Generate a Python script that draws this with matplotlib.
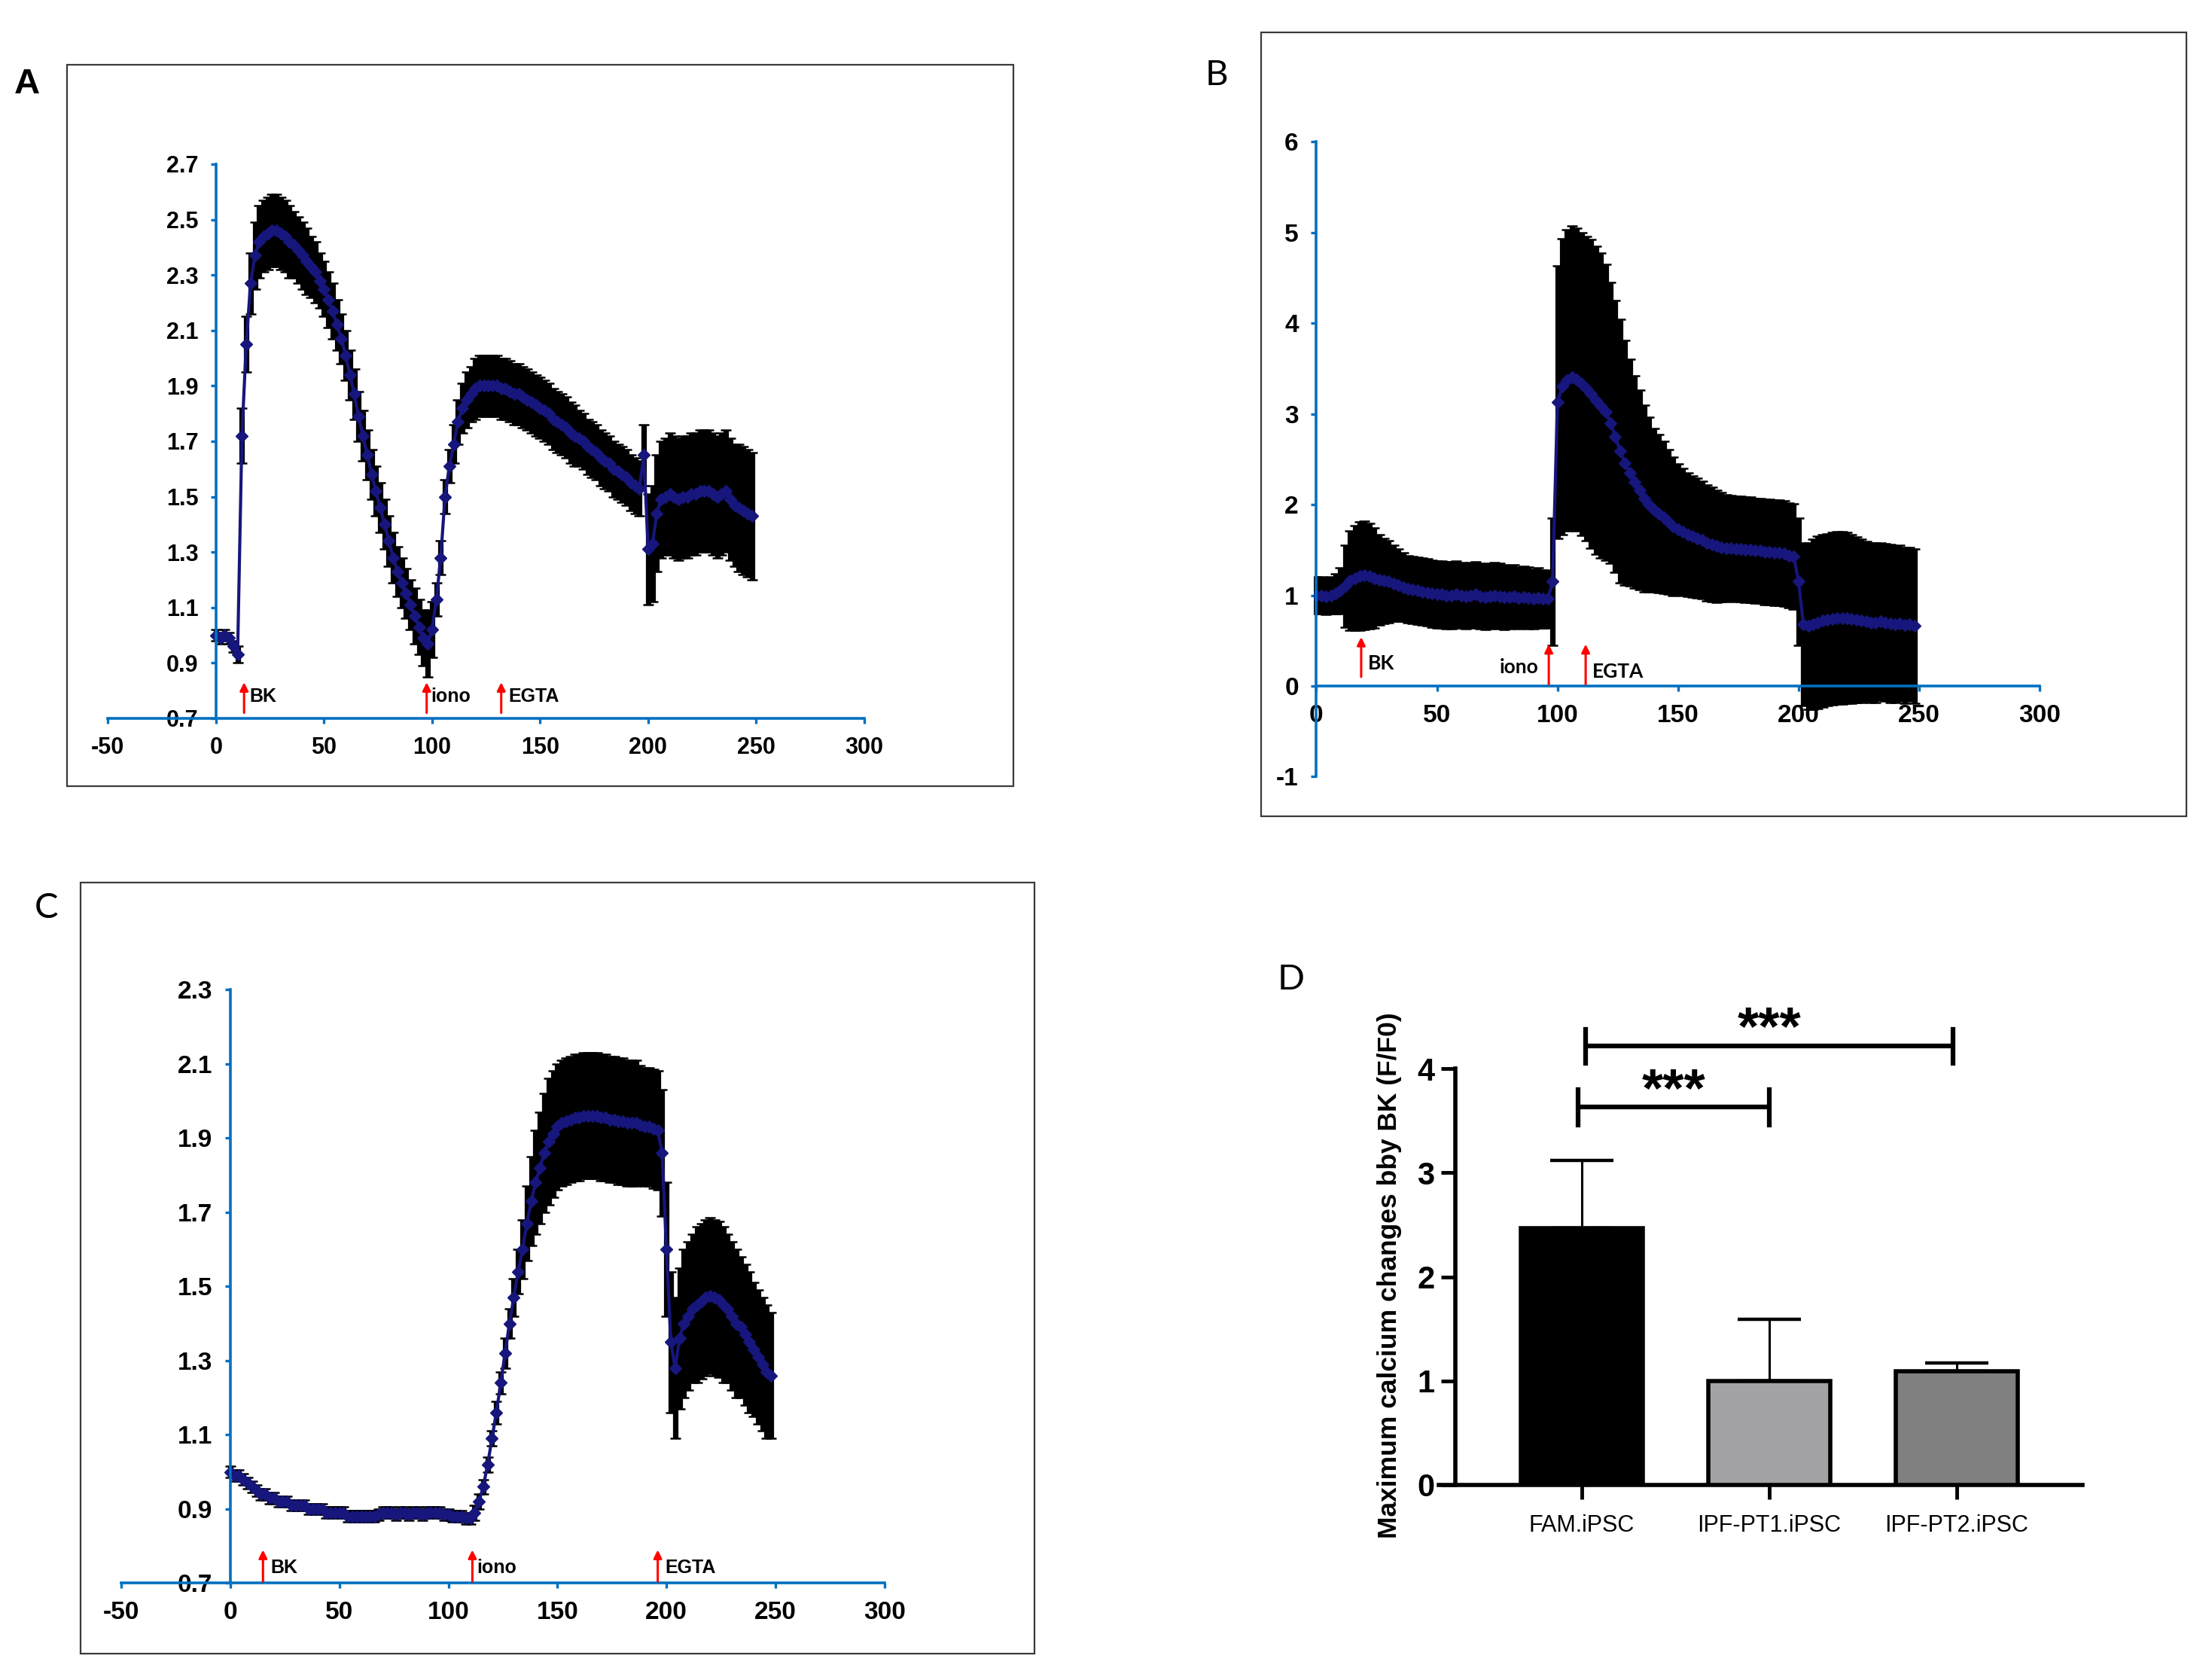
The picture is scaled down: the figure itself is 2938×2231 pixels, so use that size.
import numpy as np
import matplotlib
matplotlib.use('Agg')
import matplotlib.pyplot as plt
from matplotlib.patches import Rectangle

NARROW = ['Liberation Sans Narrow', 'Liberation Sans', 'DejaVu Sans']
ARIAL = ['Liberation Sans', 'DejaVu Sans']
CALIBRI = ['Lato', 'Open Sans', 'DejaVu Sans']
BLUE = '#0070C0'
NAVY = '#16167C'

# time points (s) shared by the three traces
T = np.arange(0, 250, 2)

# panel A: F/F0 mean and SD
a_mean = [1.00, 0.99, 1.00, 0.99, 0.96, 0.93, 1.72, 2.05, 2.27, 2.37,
          2.42, 2.44, 2.45, 2.46, 2.46, 2.45, 2.44, 2.42, 2.41, 2.39,
          2.37, 2.35, 2.33, 2.31, 2.28, 2.25, 2.21, 2.17, 2.12, 2.07,
          2.01, 1.94, 1.87, 1.79, 1.72, 1.65, 1.58, 1.52, 1.46, 1.40,
          1.34, 1.28, 1.23, 1.19, 1.15, 1.11, 1.07, 1.03, 0.99, 0.97,
          1.02, 1.13, 1.28, 1.50, 1.61, 1.69, 1.77, 1.82, 1.85, 1.87,
          1.89, 1.90, 1.90, 1.90, 1.90, 1.90, 1.89, 1.89, 1.88, 1.87,
          1.87, 1.86, 1.85, 1.84, 1.83, 1.82, 1.81, 1.80, 1.78, 1.77,
          1.76, 1.75, 1.73, 1.72, 1.71, 1.70, 1.68, 1.67, 1.66, 1.64,
          1.63, 1.62, 1.60, 1.59, 1.58, 1.57, 1.55, 1.54, 1.53, 1.65,
          1.31, 1.33, 1.44, 1.49, 1.50, 1.51, 1.50, 1.49, 1.50, 1.50,
          1.51, 1.51, 1.52, 1.52, 1.52, 1.51, 1.50, 1.51, 1.52, 1.49,
          1.47, 1.46, 1.45, 1.44, 1.43]
a_sd = [0.02, 0.02, 0.02, 0.02, 0.02, 0.03, 0.10, 0.10, 0.11, 0.12,
        0.13, 0.13, 0.13, 0.13, 0.13, 0.13, 0.13, 0.13, 0.12, 0.12,
        0.12, 0.12, 0.11, 0.11, 0.10, 0.10, 0.10, 0.10, 0.09, 0.09,
        0.09, 0.09, 0.09, 0.09, 0.09, 0.09, 0.09, 0.09, 0.09, 0.09,
        0.09, 0.09, 0.09, 0.09, 0.09, 0.09, 0.10, 0.10, 0.10, 0.12,
        0.10, 0.06, 0.06, 0.06, 0.06, 0.07, 0.08, 0.09, 0.10, 0.10,
        0.11, 0.11, 0.11, 0.11, 0.11, 0.11, 0.11, 0.11, 0.11, 0.11,
        0.11, 0.11, 0.11, 0.11, 0.11, 0.11, 0.11, 0.11, 0.11, 0.11,
        0.11, 0.11, 0.11, 0.11, 0.10, 0.10, 0.10, 0.10, 0.10, 0.10,
        0.10, 0.10, 0.10, 0.10, 0.10, 0.10, 0.10, 0.10, 0.10, 0.11,
        0.20, 0.21, 0.21, 0.21, 0.21, 0.22, 0.22, 0.22, 0.22, 0.22,
        0.22, 0.22, 0.22, 0.22, 0.22, 0.22, 0.22, 0.22, 0.22, 0.22,
        0.22, 0.23, 0.23, 0.23, 0.23]

# panel B
b_mean = [1.00, 1.00, 0.99, 1.00, 1.02, 1.05, 1.10, 1.16, 1.19, 1.21,
          1.22, 1.21, 1.19, 1.17, 1.16, 1.15, 1.13, 1.11, 1.09, 1.07,
          1.06, 1.05, 1.04, 1.03, 1.02, 1.01, 1.01, 1.00, 1.00, 1.01,
          1.00, 0.99, 1.00, 1.01, 0.99, 0.98, 0.99, 1.00, 0.99, 0.98,
          0.98, 0.99, 0.97, 0.98, 0.97, 0.96, 0.97, 0.96, 0.96, 1.15,
          3.13, 3.30, 3.37, 3.40, 3.38, 3.33, 3.28, 3.22, 3.15, 3.09,
          3.02, 2.90, 2.75, 2.59, 2.46, 2.35, 2.25, 2.16, 2.07, 2.00,
          1.94, 1.90, 1.86, 1.81, 1.76, 1.73, 1.70, 1.67, 1.65, 1.63,
          1.61, 1.58, 1.56, 1.54, 1.53, 1.52, 1.52, 1.51, 1.51, 1.50,
          1.50, 1.49, 1.49, 1.48, 1.48, 1.47, 1.47, 1.46, 1.44, 1.43,
          1.15, 0.68, 0.66, 0.68, 0.70, 0.72, 0.73, 0.74, 0.75, 0.75,
          0.75, 0.74, 0.73, 0.72, 0.71, 0.70, 0.70, 0.71, 0.70, 0.69,
          0.68, 0.69, 0.67, 0.68, 0.66]
b_sd = [0.20, 0.20, 0.20, 0.20, 0.22, 0.25, 0.45, 0.55, 0.58, 0.60,
        0.60, 0.58, 0.55, 0.50, 0.47, 0.45, 0.42, 0.40, 0.38, 0.37,
        0.37, 0.37, 0.37, 0.37, 0.37, 0.37, 0.37, 0.37, 0.37, 0.37,
        0.36, 0.36, 0.36, 0.36, 0.36, 0.36, 0.36, 0.36, 0.36, 0.36,
        0.35, 0.35, 0.34, 0.34, 0.34, 0.33, 0.33, 0.32, 0.32, 0.70,
        1.50, 1.63, 1.66, 1.67, 1.67, 1.67, 1.68, 1.70, 1.70, 1.68,
        1.63, 1.55, 1.50, 1.45, 1.35, 1.25, 1.17, 1.10, 1.03, 0.96,
        0.90, 0.87, 0.84, 0.80, 0.76, 0.72, 0.70, 0.68, 0.67, 0.66,
        0.65, 0.64, 0.63, 0.62, 0.60, 0.59, 0.58, 0.58, 0.58, 0.58,
        0.58, 0.58, 0.58, 0.58, 0.58, 0.58, 0.58, 0.58, 0.58, 0.58,
        0.70, 0.90, 0.92, 0.94, 0.95, 0.95, 0.95, 0.95, 0.95, 0.95,
        0.94, 0.93, 0.91, 0.90, 0.88, 0.88, 0.88, 0.87, 0.87, 0.87,
        0.86, 0.86, 0.86, 0.85, 0.85]

# panel C
c_mean = [1.00, 0.99, 0.99, 0.98, 0.97, 0.96, 0.95, 0.94, 0.94, 0.93,
          0.93, 0.92, 0.92, 0.92, 0.91, 0.91, 0.91, 0.91, 0.90, 0.90,
          0.90, 0.90, 0.89, 0.89, 0.89, 0.89, 0.89, 0.88, 0.88, 0.88,
          0.88, 0.88, 0.88, 0.88, 0.885, 0.89, 0.89, 0.89, 0.885, 0.89,
          0.89, 0.885, 0.89, 0.89, 0.885, 0.89, 0.89, 0.89, 0.89, 0.885,
          0.885, 0.88, 0.88, 0.88, 0.875, 0.875, 0.89, 0.92, 0.96, 1.02,
          1.09, 1.16, 1.24, 1.32, 1.40, 1.47, 1.54, 1.60, 1.67, 1.73,
          1.78, 1.82, 1.86, 1.89, 1.91, 1.93, 1.94, 1.945, 1.95, 1.955,
          1.955, 1.96, 1.96, 1.96, 1.96, 1.955, 1.955, 1.95, 1.95, 1.945,
          1.945, 1.94, 1.94, 1.94, 1.935, 1.93, 1.93, 1.925, 1.92, 1.86,
          1.60, 1.35, 1.28, 1.36, 1.40, 1.42, 1.44, 1.45, 1.46, 1.47,
          1.475, 1.47, 1.465, 1.45, 1.44, 1.42, 1.40, 1.39, 1.37, 1.35,
          1.33, 1.31, 1.29, 1.27, 1.26]
c_sd = [0.015] * 56 + [
        0.02, 0.02, 0.02, 0.02,
        0.02, 0.03, 0.03, 0.04, 0.04, 0.05, 0.06, 0.08, 0.10, 0.12,
        0.14, 0.15, 0.16, 0.17, 0.17, 0.17, 0.17, 0.17, 0.17, 0.17,
        0.17, 0.17, 0.17, 0.17, 0.17, 0.17, 0.17, 0.17, 0.17, 0.17,
        0.17, 0.17, 0.17, 0.17, 0.16, 0.16, 0.16, 0.16, 0.16, 0.17,
        0.18, 0.19, 0.19, 0.19, 0.20, 0.20, 0.20, 0.21, 0.21, 0.21,
        0.21, 0.21, 0.21, 0.21, 0.20, 0.20, 0.20, 0.19, 0.19, 0.19,
        0.18, 0.18, 0.18, 0.18, 0.17]

# panel D: bar chart
groups = ['FAM.iPSC', 'IPF-PT1.iPSC', 'IPF-PT2.iPSC']
bar_mean = [2.47, 1.00, 1.09]
bar_err = [0.65, 0.59, 0.08]
bar_colors = ['black', '#A3A3A7', '#808080']

fig = plt.figure(figsize=(29.38, 22.31), dpi=100)
W, H = 2938.0, 2231.0


def frame(x0, y0, x1, y1):
    fig.patches.append(Rectangle((x0 / W, 1 - y1 / H), (x1 - x0) / W, (y1 - y0) / H,
                                 transform=fig.transFigure, fill=False,
                                 edgecolor='#3a3a3a', linewidth=1.6))


def trace_panel(rect, mean, sd, xlim, ylim, yticks, ylabels, xticks, xaxis_y, fs):
    ax = fig.add_axes(rect)
    ax.patch.set_visible(False)
    ax.errorbar(T, mean, yerr=sd, fmt='-D', color=NAVY, ms=8.5, lw=3,
                ecolor='black', elinewidth=5.2, capsize=5, capthick=1.8)
    ax.set_xlim(xlim)
    ax.set_ylim(ylim)
    ax.spines['top'].set_visible(False)
    ax.spines['right'].set_visible(False)
    ax.spines['left'].set_position(('data', 0))
    ax.spines['bottom'].set_position(('data', xaxis_y))
    ax.spines['bottom'].set_bounds(xticks[0], xticks[-1])
    for s in ['left', 'bottom']:
        ax.spines[s].set_color(BLUE)
        ax.spines[s].set_linewidth(2.6)
    ax.set_xticks(xticks)
    ax.set_xticklabels([str(v) for v in xticks])
    ax.set_yticks(yticks)
    ax.set_yticklabels(ylabels)
    ax.tick_params(axis='both', colors=BLUE, labelcolor='black', length=5,
                   width=2.4, direction='out', labelsize=fs, pad=12)
    for lab in ax.get_xticklabels() + ax.get_yticklabels():
        lab.set_fontfamily(NARROW)
        lab.set_fontweight('bold')
    return ax


def mark(ax, t, base, tip, label, tx, ty, family, weight, fs, ha='left'):
    ax.annotate('', xy=(t, tip), xytext=(t, base),
                arrowprops=dict(arrowstyle='-|>', color='red', lw=2.2,
                                mutation_scale=16, shrinkA=0, shrinkB=0))
    ax.text(tx, ty, label, ha=ha, va='center', fontsize=fs,
            fontfamily=family, fontweight=weight, color='black')


# ---- A ----
frame(89, 86, 1346, 1044)
ya = [0.7, 0.9, 1.1, 1.3, 1.5, 1.7, 1.9, 2.1, 2.3, 2.5, 2.7]
axa = trace_panel([0.0488, 0.5724, 0.3419, 0.3299], a_mean, a_sd, (-50, 300), (0.7, 2.7),
                  ya, [f'{v:.1f}' for v in ya], list(range(-50, 301, 50)), 0.7, 22)
mark(axa, 13, 0.72, 0.83, 'BK', 15.5, 0.778, ARIAL, 'bold', 18)
mark(axa, 97.5, 0.72, 0.83, 'iono', 99.5, 0.778, ARIAL, 'bold', 18)
mark(axa, 132, 0.72, 0.83, 'EGTA', 135.5, 0.778, ARIAL, 'bold', 18)
fig.text(36 / W, 1 - 112 / H, 'A', fontsize=34, fontweight='bold', fontfamily=ARIAL,
         ha='center', va='center')

# ---- B ----
frame(1675, 43, 2904, 1084)
yb = list(range(-1, 7))
axb = trace_panel([0.5940, 0.5377, 0.3281, 0.3779], b_mean, b_sd, (-1, 300), (-1, 6),
                  yb, [str(v) for v in yb], list(range(0, 301, 50)), 0, 24)
mark(axb, 18.6, 0.1, 0.54, 'BK', 21.3, 0.25, CALIBRI, 'bold', 19)
mark(axb, 96.4, 0.02, 0.46, 'iono', 92, 0.21, CALIBRI, 'bold', 19, ha='right')
mark(axb, 111.7, 0.02, 0.46, 'EGTA', 114.3, 0.16, CALIBRI, 'bold', 19)
fig.text(1616 / W, 1 - 100 / H, 'B', fontsize=34, fontfamily=CALIBRI,
         ha='center', va='center')

# ---- C ----
frame(107, 1172, 1374, 2196)
yc = [0.7, 0.9, 1.1, 1.3, 1.5, 1.7, 1.9, 2.1, 2.3]
axc = trace_panel([0.0548, 0.0576, 0.3451, 0.3534], c_mean, c_sd, (-50, 300), (0.7, 2.3),
                  yc, [f'{v:.1f}' for v in yc], list(range(-50, 301, 50)), 0.7, 24)
mark(axc, 15, 0.705, 0.79, 'BK', 18.5, 0.742, ARIAL, 'bold', 18)
mark(axc, 111, 0.705, 0.79, 'iono', 113, 0.742, ARIAL, 'bold', 18)
mark(axc, 196, 0.705, 0.79, 'EGTA', 199.5, 0.742, ARIAL, 'bold', 18)
fig.text(62 / W, 1 - 1206 / H, 'C', fontsize=34, fontfamily=CALIBRI,
         ha='center', va='center')

# ---- D ----
axd = fig.add_axes([0.6504, 0.1161, 0.2909, 0.2911])
axd.patch.set_visible(False)
x = np.arange(len(groups))
axd.bar(x, bar_mean, width=0.65, color=bar_colors, edgecolor='black', linewidth=4, zorder=3)
axd.errorbar(x, bar_mean, yerr=[np.zeros(len(x)), bar_err], fmt='none', ecolor='black',
             elinewidth=2.2, capsize=30, capthick=3.2, zorder=2)
axd.set_xlim(-0.763, 2.669)
axd.set_ylim(0, 4.7)
axd.spines['top'].set_visible(False)
axd.spines['right'].set_visible(False)
axd.spines['left'].set_position(('data', -0.673))
axd.spines['left'].set_bounds(0, 4)
for s in ['left', 'bottom']:
    axd.spines[s].set_linewidth(4)
axd.set_yticks([0, 1, 2, 3, 4])
axd.set_xticks(x)
axd.set_xticklabels(groups)
axd.tick_params(axis='both', length=14, width=3.5, direction='out')
axd.tick_params(axis='y', labelsize=30, pad=6)
axd.tick_params(axis='x', labelsize=22, pad=14)
for lab in axd.get_yticklabels():
    lab.set_fontfamily(NARROW)
    lab.set_fontweight('bold')
for lab in axd.get_xticklabels():
    lab.set_fontfamily(NARROW)

# significance brackets
brackets = [(-0.02, 1.0, 3.63, 3.46, 3.80, 3.78), (0.02, 1.98, 4.22, 4.05, 4.38, 4.37)]
for xl, xr, yb_, ylo, yhi, ys in brackets:
    axd.plot([xl, xr], [yb_, yb_], color='black', lw=4.5, clip_on=False, solid_capstyle='butt')
    axd.plot([xl, xl], [ylo, yhi], color='black', lw=4.5, clip_on=False)
    axd.plot([xr, xr], [ylo, yhi], color='black', lw=4.5, clip_on=False)
    axd.text((xl + xr) / 2, ys, '***', ha='center', va='center', fontsize=52,
             fontweight='bold', fontfamily=ARIAL, clip_on=False)

fig.text(1845 / W, 1 - 1694 / H, 'Maximum calcium changes bby BK (F/F0)', rotation=90,
         fontsize=25.5, fontweight='bold', fontfamily=ARIAL, ha='center', va='center')
fig.text(1715 / W, 1 - 1301 / H, 'D', fontsize=34, fontfamily=CALIBRI,
         ha='center', va='center')

fig.savefig('out.png', dpi=100, facecolor='white')
